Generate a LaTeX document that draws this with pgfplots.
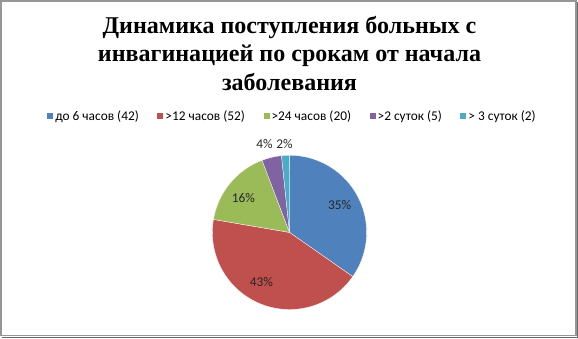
\documentclass[border=0pt]{standalone}
\usepackage{pgfplots}
\pgfplotsset{compat=1.18}
\usepackage{pgfplotstable}
\usepackage{fontspec}
\setmainfont{Carlito}
\newfontfamily\titlefont{Liberation Serif}

\definecolor{s0}{HTML}{4F81BD}
\definecolor{s1}{HTML}{C0504D}
\definecolor{s2}{HTML}{9BBB59}
\definecolor{s3}{HTML}{8064A2}
\definecolor{s4}{HTML}{4BACC6}
\definecolor{frame}{HTML}{969696}

\pgfplotstableread{
count
42
52
20
5
2
}\piedata

\begin{document}
\begin{tikzpicture}
% cumulative angles from the data
\xdef\total{0}
\pgfplotsforeachungrouped \i in {0,...,4}{%
  \pgfplotstablegetelem{\i}{count}\of\piedata
  \pgfmathsetmacro\tmp{\total+\pgfplotsretval}%
  \xdef\total{\tmp}%
}
\xdef\cum{0}
\pgfplotsforeachungrouped \i in {0,...,4}{%
  \pgfplotstablegetelem{\i}{count}\of\piedata
  \expandafter\xdef\csname a\i\endcsname{\cum}%
  \pgfmathsetmacro\tmp{\cum+(\pgfplotsretval/\total)*360}%
  \xdef\cum{\tmp}%
  \expandafter\xdef\csname b\i\endcsname{\cum}%
}
\begin{axis}[
  width=578bp, height=338bp, scale only axis,
  xmin=0, xmax=578, ymin=0, ymax=338, y dir=reverse,
  hide axis, clip=false,
  legend columns=5,
  legend style={at={(axis cs:292,116)}, anchor=center, draw=none, fill=none,
    font=\fontsize{13.33bp}{16bp}\selectfont, inner sep=0pt,
    /tikz/every even column/.append style={column sep=16.5bp}},
  legend cell align=left,
  legend image code/.code={\fill[#1,draw=none] (0bp,-3bp) rectangle (6bp,3bp);},
]
% frame
\draw[frame, line width=1.5bp] (axis cs:0.75,0.75) rectangle (axis cs:575,335);
\draw[frame!70!black, line width=1bp] (axis cs:576.5,2) -- (axis cs:576.5,337) -- (axis cs:2,337);

\pgfplotsinvokeforeach{0,...,4}{
  \addplot[fill=s#1, draw=white, line width=0.3bp, domain=\csname a#1\endcsname:\csname b#1\endcsname,
     samples=60, variable=\t]
     ({289+77*sin(\t)},{232-77*cos(\t)}) -- (axis cs:289,232) -- cycle;
}
\legend{до 6 часов (42), >12 часов (52), >24 часов (20), >2 суток (5), > 3 суток (2)}

\node[font=\titlefont\bfseries\fontsize{24bp}{28.5bp}\selectfont, align=center, anchor=north]
  at (axis cs:289,12.5) {Динамика поступления больных с\\инвагинацией по срокам от начала\\заболевания};

\begin{scope}[every node/.style={font=\fontsize{13.33bp}{16bp}\selectfont, text=black!85}]
\node at (axis cs:339,205) {35\%};
\node at (axis cs:261,282) {43\%};
\node at (axis cs:243,198) {16\%};
\node at (axis cs:264,144) {4\%};
\node at (axis cs:284,144) {2\%};
\end{scope}
\end{axis}
\end{tikzpicture}
\end{document}
